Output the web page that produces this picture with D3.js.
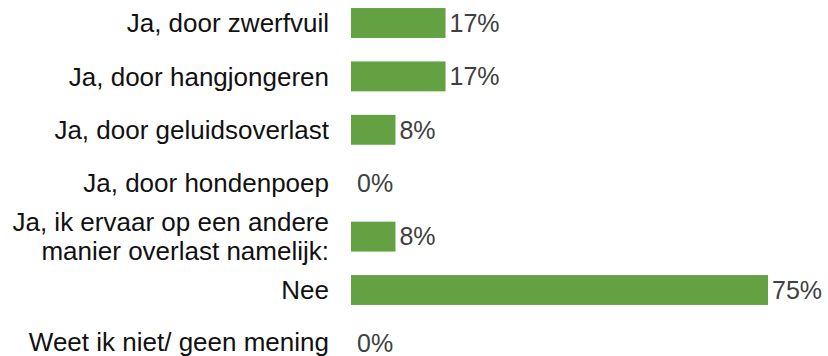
<!DOCTYPE html>
<html>
<head>
<meta charset="utf-8">
<script src="https://cdn.jsdelivr.net/npm/d3@7"></script>
<style>
  html, body { margin: 0; padding: 0; background: #fff; }
  svg { display: block; }
</style>
</head>
<body>
<svg id="chart" width="828" height="356"></svg>
<script>
// Answer categories (each entry is a list of text lines)
const categories = [
  ["Ja, door zwerfvuil"],
  ["Ja, door hangjongeren"],
  ["Ja, door geluidsoverlast"],
  ["Ja, door hondenpoep"],
  ["Ja, ik ervaar op een andere", "manier overlast namelijk:"],
  ["Nee"],
  ["Weet ik niet/ geen mening"]
];
// Share of respondents, in percent
const values = [17, 17, 8, 0, 8, 75, 0];

const svg = d3.select("#chart");
const fontFamily = "'Liberation Sans', Arial, sans-serif";
const labelSize = 26;
const valueSize = 25;
const lineHeight = 29;

const x = d3.scaleLinear().domain([0, 75]).range([351, 768]);
const y = d3.scaleBand()
  .domain(d3.range(categories.length))
  .range([-3.7, 370.1])
  .paddingInner(0.44)
  .paddingOuter(0.22);

const rows = svg.selectAll("g.row")
  .data(categories.map((c, i) => ({ lines: c, value: values[i], i })))
  .join("g")
  .attr("class", "row");

rows.append("rect")
  .attr("x", x(0))
  .attr("y", d => y(d.i))
  .attr("width", d => x(d.value) - x(0))
  .attr("height", y.bandwidth())
  .attr("fill", "#63a142");

// Category labels, right-aligned left of the bars
rows.append("text")
  .attr("text-anchor", "end")
  .attr("font-family", fontFamily)
  .attr("font-size", labelSize)
  .attr("fill", "#111")
  .each(function(d) {
    const cy = y(d.i) + y.bandwidth() / 2 - (d.i === categories.length - 1 ? 2 : 0);
    const n = d.lines.length;
    d3.select(this).selectAll("tspan")
      .data(d.lines)
      .join("tspan")
      .attr("x", 329)
      .attr("y", (l, k) => cy + (k - (n - 1) / 2) * lineHeight)
      .attr("dy", "0.35em")
      .text(l => l);
  });

// Value labels at the end of each bar
rows.append("text")
  .attr("x", d => x(d.value) + (d.value === 0 ? 6 : 4))
  .attr("y", d => y(d.i) + y.bandwidth() / 2)
  .attr("dy", "0.35em")
  .attr("font-family", fontFamily)
  .attr("font-size", valueSize)
  .attr("fill", "#404040")
  .text(d => d.value + "%");
</script>
</body>
</html>
